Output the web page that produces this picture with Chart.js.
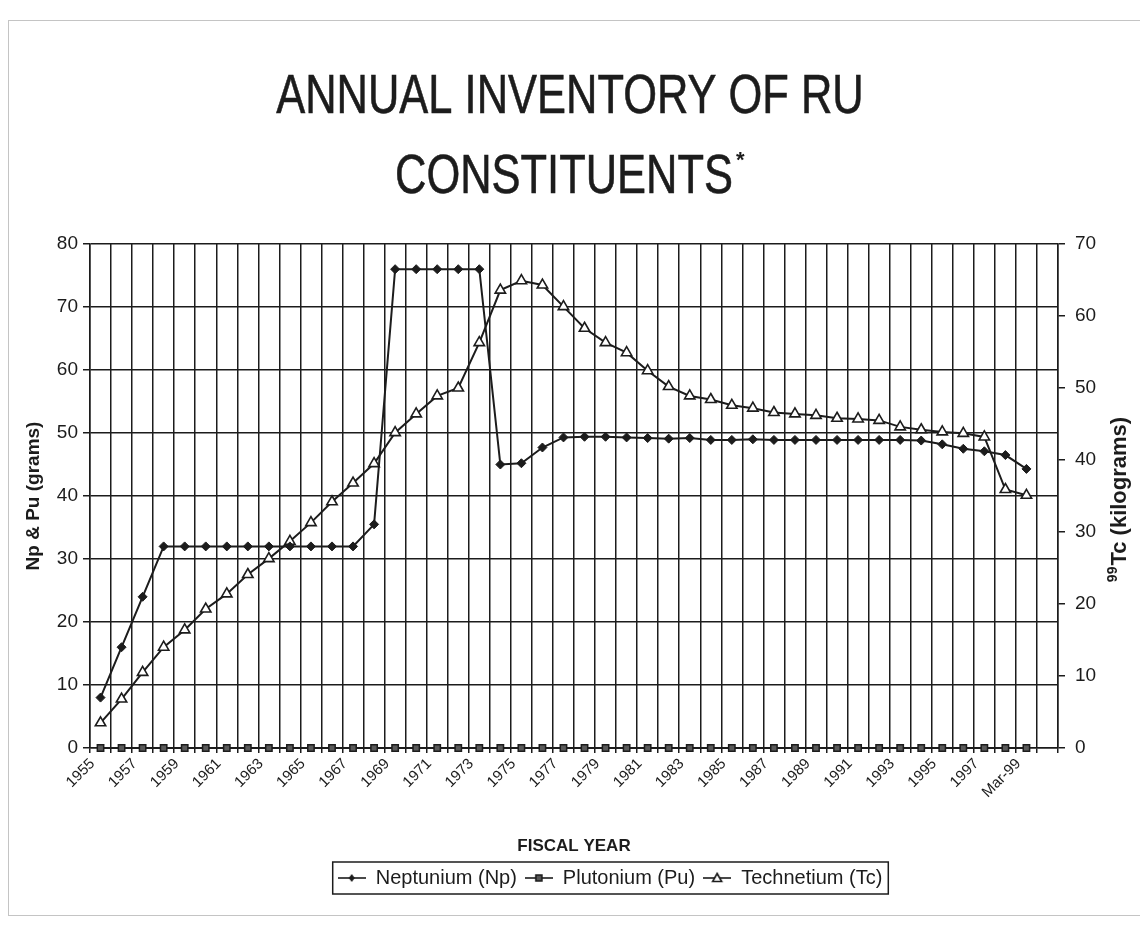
<!DOCTYPE html>
<html>
<head>
<meta charset="utf-8">
<title>Annual Inventory of RU Constituents</title>
<script src="https://cdn.jsdelivr.net/npm/chart.js@4.4.1/dist/chart.umd.min.js"></script>
<style>
    html, body { margin: 0; padding: 0; background: #ffffff; }
    #wrap { position: relative; width: 1140px; height: 942px; }
</style>
</head>
<body>
<div id="wrap"><canvas id="ruChart"></canvas></div>
<script>
// Fiscal years (one empty slot at the end, as in the original plot area)
const years = ['1955', '1956', '1957', '1958', '1959', '1960', '1961', '1962', '1963', '1964',
    '1965', '1966', '1967', '1968', '1969', '1970', '1971', '1972', '1973', '1974',
    '1975', '1976', '1977', '1978', '1979', '1980', '1981', '1982', '1983', '1984',
    '1985', '1986', '1987', '1988', '1989', '1990', '1991', '1992', '1993', '1994',
    '1995', '1996', '1997', '1998', 'Mar-99', ''];

// Neptunium and plutonium, grams (left axis)
const neptunium = [8, 16, 24, 32, 32, 32, 32, 32, 32, 32,
    32, 32, 32, 35.5, 76, 76, 76, 76, 76, 45,
    45.2, 47.7, 49.3, 49.4, 49.4, 49.3, 49.2, 49.1, 49.2, 48.9,
    48.9, 49.0, 48.9, 48.9, 48.9, 48.9, 48.9, 48.9, 48.9, 48.8,
    48.2, 47.5, 47.1, 46.5, 44.3];
const plutonium = [0, 0, 0, 0, 0, 0, 0, 0, 0, 0,
    0, 0, 0, 0, 0, 0, 0, 0, 0, 0,
    0, 0, 0, 0, 0, 0, 0, 0, 0, 0,
    0, 0, 0, 0, 0, 0, 0, 0, 0, 0,
    0, 0, 0, 0, 0];

// Technetium-99, kilograms (right axis)
const technetium = [3.5, 6.8, 10.5, 14, 16.4, 19.3, 21.4, 24.1, 26.3, 28.7,
    31.3, 34.2, 36.8, 39.5, 43.8, 46.4, 48.9, 50.0, 56.3, 63.6,
    64.9, 64.3, 61.3, 58.3, 56.3, 54.9, 52.4, 50.2, 48.9, 48.4,
    47.6, 47.2, 46.6, 46.4, 46.2, 45.8, 45.7, 45.5, 44.6, 44.2,
    43.9, 43.7, 43.2, 35.9, 35.1];

const seriesNames = ['Neptunium (Np)', 'Plutonium (Pu)', 'Technetium (Tc)'];
const titleLines = ['ANNUAL INVENTORY OF RU', 'CONSTITUENTS'];

const INK = '#1c1c1c';
const FONT = '"Liberation Sans", Arial, sans-serif';
const TITLE_SIZE = 55;
const TITLE_LINE = 80;
const TITLE_PAD_TOP = 58;
const TITLE_SQUEEZE = 0.79;   // the original uses a narrow face
const LEGEND_SHIFT = 40;      // legend sits a little right of centre in the original

Chart.defaults.font.family = FONT;
Chart.defaults.color = INK;

// small line + marker pictures for the legend
function makeLegendIcon(kind) {
    const c = document.createElement('canvas');
    c.width = 28;
    c.height = 14;
    const g = c.getContext('2d');
    g.strokeStyle = INK;
    g.fillStyle = INK;
    g.lineWidth = 1.6;
    g.beginPath();
    g.moveTo(0, 7);
    g.lineTo(28, 7);
    g.stroke();
    g.beginPath();
    if (kind === 'diamond') {
        g.moveTo(14, 3); g.lineTo(17, 7); g.lineTo(14, 11); g.lineTo(11, 7);
        g.closePath();
        g.fill();
    } else if (kind === 'square') {
        g.fillStyle = '#555';
        g.rect(11, 4, 6, 6);
        g.fill();
        g.stroke();
    } else {
        g.fillStyle = '#fff';
        g.moveTo(14, 2.5); g.lineTo(18.5, 10.5); g.lineTo(9.5, 10.5);
        g.closePath();
        g.fill();
        g.stroke();
    }
    return c;
}
const legendIcons = [makeLegendIcon('diamond'), makeLegendIcon('square'), makeLegendIcon('triangle')];

// the title block keeps its space; the lines are drawn narrow, with a superscript asterisk
const narrowTitle = {
    id: 'narrowTitle',
    afterDraw(chart) {
        const t = chart.titleBlock;
        if (!t) return;
        const ctx = chart.ctx;
        const cx = (t.left + t.right) / 2;
        ctx.save();
        ctx.fillStyle = INK;
        ctx.strokeStyle = INK;
        ctx.lineWidth = 0.6;
        ctx.textAlign = 'center';
        ctx.textBaseline = 'middle';
        ctx.font = TITLE_SIZE + 'px ' + FONT;
        const starShift = -6;
        titleLines.forEach((line, i) => {
            const y = t.top + TITLE_PAD_TOP + TITLE_LINE * (i + 0.5);
            const x = i === 1 ? cx + starShift : cx;
            ctx.save();
            ctx.translate(x, y);
            ctx.scale(TITLE_SQUEEZE, 1);
            ctx.fillText(line, 0, 0);
            ctx.strokeText(line, 0, 0);
            ctx.restore();
        });
        const w = ctx.measureText(titleLines[1]).width * TITLE_SQUEEZE;
        const sx = cx + starShift + w / 2 + 3;
        const sy = t.top + TITLE_PAD_TOP + TITLE_LINE * 1.5 - 17;
        ctx.textAlign = 'left';
        ctx.font = 'bold 22px ' + FONT;
        ctx.fillText('*', sx, sy);
        ctx.restore();
    }
};

// right axis title, read bottom-to-top with a superscript mass number
const rightTitle = {
    id: 'rightTitle',
    afterDraw(chart) {
        const s = chart.scales.y1;
        const ctx = chart.ctx;
        ctx.save();
        ctx.translate(s.right - 20, (chart.chartArea.top + chart.chartArea.bottom) / 2 + 4);
        ctx.rotate(-Math.PI / 2);
        ctx.fillStyle = INK;
        ctx.textBaseline = 'middle';
        const main = 'Tc (kilograms)';
        ctx.font = 'bold 14px ' + FONT;
        const supW = ctx.measureText('99').width;
        ctx.font = 'bold 22px ' + FONT;
        const mainW = ctx.measureText(main).width;
        const start = -(supW + mainW) / 2;
        ctx.font = 'bold 14px ' + FONT;
        ctx.fillText('99', start, -7);
        ctx.font = 'bold 22px ' + FONT;
        ctx.fillText(main, start + supW + 1, 0);
        ctx.restore();
    }
};

// move the legend right of centre, as laid out in the original
const legendShift = {
    id: 'legendShift',
    afterLayout(chart) {
        const legend = chart.legend;
        if (!legend || legend._shifted) return;
        const baseDraw = legend.draw;
        legend.draw = function(...args) {
            this.ctx.save();
            this.ctx.translate(LEGEND_SHIFT, 0);
            baseDraw.apply(this, args);
            this.ctx.restore();
        };
        legend._shifted = true;
    }
};

// frame round the legend, and the faint outline of the chart object
const frames = {
    id: 'frames',
    afterDraw(chart) {
        const ctx = chart.ctx;
        ctx.save();
        ctx.strokeStyle = '#c4c4c4';
        ctx.lineWidth = 1;
        ctx.strokeRect(8.5, 20.5, chart.width + 10, 895);
        const boxes = chart.legend && chart.legend.legendHitBoxes;
        if (boxes && boxes.length) {
            const left = Math.min(...boxes.map(b => b.left)) - 5 + LEGEND_SHIFT;
            const right = Math.max(...boxes.map(b => b.left + b.width)) + 6 + LEGEND_SHIFT;
            const top = boxes[0].top - 6;
            const bottom = boxes[0].top + boxes[0].height + 6;
            ctx.strokeStyle = INK;
            ctx.lineWidth = 1.5;
            ctx.strokeRect(left, top, right - left, bottom - top);
        }
        ctx.restore();
    }
};

const ctx = document.getElementById('ruChart').getContext('2d');

const chart = new Chart(ctx, {
    type: 'line',
    data: {
        labels: years,
        datasets: [
            {
                label: seriesNames[0],
                data: neptunium,
                yAxisID: 'y',
                borderColor: INK,
                backgroundColor: INK,
                borderWidth: 2,
                tension: 0,
                pointStyle: 'rectRot',
                pointRadius: 4.5,
                pointBackgroundColor: INK,
                pointBorderColor: INK,
                pointBorderWidth: 1,
                clip: false
            },
            {
                label: seriesNames[1],
                data: plutonium,
                yAxisID: 'y',
                borderColor: INK,
                backgroundColor: '#555',
                borderWidth: 2,
                tension: 0,
                pointStyle: 'rect',
                pointRadius: 4.5,
                pointBackgroundColor: '#5a5a5a',
                pointBorderColor: INK,
                pointBorderWidth: 1.5,
                clip: false
            },
            {
                label: seriesNames[2],
                data: technetium,
                yAxisID: 'y1',
                borderColor: INK,
                backgroundColor: '#fff',
                borderWidth: 2,
                tension: 0,
                pointStyle: 'triangle',
                pointRadius: 6,
                pointBackgroundColor: '#fff',
                pointBorderColor: INK,
                pointBorderWidth: 1.6,
                clip: false
            }
        ]
    },
    options: {
        responsive: true,
        maintainAspectRatio: false,
        animation: false,
        layout: { padding: { top: 0, left: 0, right: 0, bottom: 44 } },
        plugins: {
            title: {
                // reserves the room; narrowTitle paints the lines
                display: true,
                text: titleLines,
                color: 'rgba(0, 0, 0, 0)',
                font: { size: TITLE_SIZE, weight: 'normal', lineHeight: TITLE_LINE + 'px' },
                padding: { top: TITLE_PAD_TOP, bottom: 26 }
            },
            legend: {
                position: 'bottom',
                labels: {
                    usePointStyle: true,
                    pointStyleWidth: 28,
                    padding: 8,
                    color: INK,
                    font: { size: 20 },
                    generateLabels(chart) {
                        const items = Chart.defaults.plugins.legend.labels.generateLabels(chart);
                        items.forEach((item, i) => { item.pointStyle = legendIcons[i]; });
                        return items;
                    }
                }
            },
            tooltip: { enabled: false }
        },
        scales: {
            x: {
                offset: true,
                grid: {
                    offset: true,
                    color: INK,
                    lineWidth: 1.5,
                    tickLength: 5
                },
                border: { color: INK, width: 1.5 },
                ticks: {
                    autoSkip: false,
                    maxRotation: 45,
                    minRotation: 45,
                    labelOffset: -8,
                    padding: 2,
                    color: INK,
                    font: { size: 15 },
                    callback: function(value, index) {
                        return index % 2 === 0 ? this.getLabelForValue(value) : '';
                    }
                },
                title: {
                    display: true,
                    text: 'FISCAL YEAR',
                    color: INK,
                    font: { size: 17, weight: 'bold' },
                    padding: { top: 0, bottom: 3 }
                },
                afterFit(scale) { scale.height = 112; }
            },
            y: {
                position: 'left',
                min: 0,
                max: 80,
                ticks: { stepSize: 10, padding: 5, color: INK, font: { size: 19 } },
                grid: { color: INK, lineWidth: 1.5, tickLength: 7 },
                border: { color: INK, width: 1.5 },
                title: {
                    display: true,
                    text: 'Np & Pu (grams)',
                    color: INK,
                    font: { size: 19, weight: 'bold' },
                    padding: { top: 22, bottom: 0 }
                },
                afterFit(scale) { scale.width = 90; }
            },
            y1: {
                position: 'right',
                min: 0,
                max: 70,
                ticks: { stepSize: 10, padding: 10, color: INK, font: { size: 19 } },
                grid: { drawOnChartArea: false, color: INK, lineWidth: 1.5, tickLength: 7 },
                border: { color: INK, width: 1.5 },
                afterFit(scale) { scale.width = 82; }
            }
        }
    },
    plugins: [narrowTitle, rightTitle, legendShift, frames]
});
</script>
</body>
</html>
